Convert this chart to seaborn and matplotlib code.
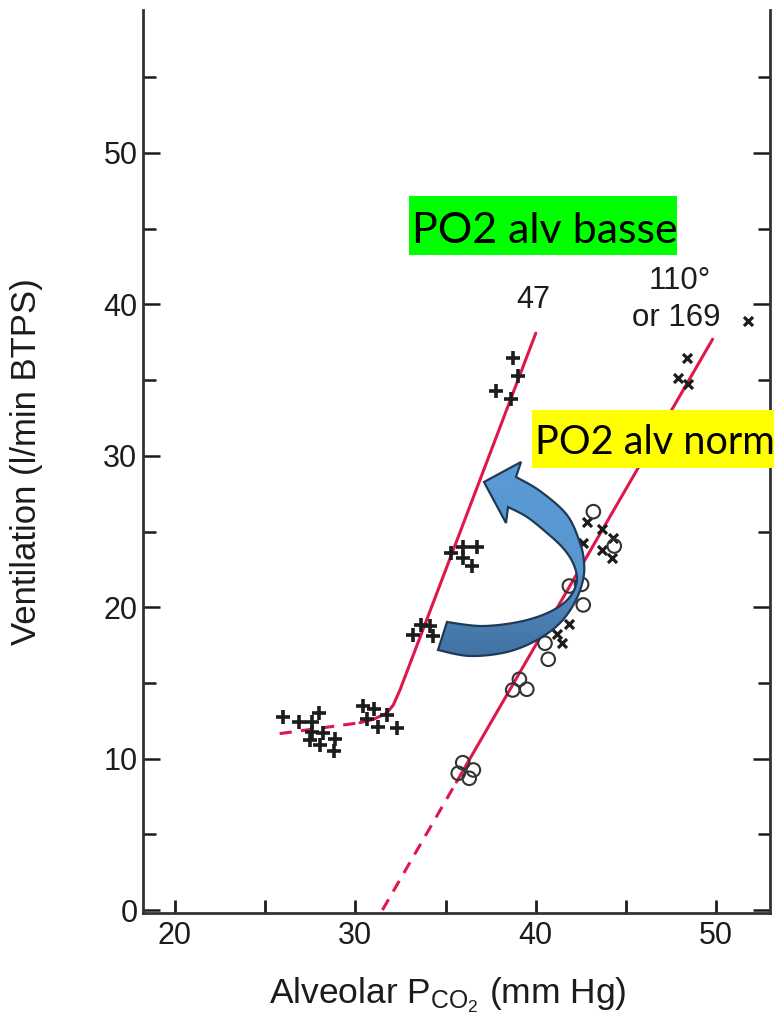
import numpy as np
import pandas as pd
import matplotlib
matplotlib.use("Agg")
import matplotlib.pyplot as plt
import seaborn as sns
from matplotlib.patches import Polygon, Rectangle
from matplotlib.colors import LinearSegmentedColormap
from matplotlib.transforms import IdentityTransform

# ---------------- data ----------------
plus_x = [25.97, 26.89, 27.58, 28.00, 27.58, 28.22, 27.48, 28.04, 28.87, 28.81,
          30.40, 31.03, 30.66, 31.77, 31.27, 32.32,
          33.21, 33.64, 34.13, 34.30,
          35.28, 35.95, 36.72, 35.95, 36.48,
          38.75, 39.03, 37.79, 38.61]
plus_y = [12.73, 12.44, 12.44, 12.99, 11.78, 11.67, 11.23, 10.90, 11.27, 10.50,
          13.47, 13.26, 12.60, 12.88, 12.11, 12.04,
          18.16, 18.82, 18.76, 18.10,
          23.60, 24.00, 24.00, 23.23, 22.72,
          36.44, 35.29, 34.28, 33.75]

cross_x = [51.76, 48.40, 47.90, 48.45, 42.86, 43.69, 44.30, 43.65, 44.21, 42.63,
           41.86, 41.16, 41.47]
cross_y = [38.90, 36.48, 35.16, 34.72, 25.61, 25.17, 24.55, 23.78, 23.27, 24.26,
           18.87, 18.23, 17.61]

circle_x = [43.19, 44.35, 41.86, 42.54, 42.63, 40.51, 40.69, 39.09, 38.72, 39.50,
            35.95, 35.70, 36.54, 36.31]
circle_y = [26.31, 24.04, 21.40, 21.51, 20.15, 17.62, 16.56, 15.24, 14.53, 14.58,
            9.73, 9.03, 9.25, 8.70]

low_dash_x = [25.8, 30.25]
low_dash_y = [11.65, 12.37]
low_solid_x = [30.25, 31.0, 31.73, 32.1, 32.47, 40.0]
low_solid_y = [12.37, 12.6, 12.99, 13.54, 14.53, 38.1]

norm_dash_x = [31.5, 35.6]
norm_dash_y = [0.0, 8.45]
norm_solid_x = [35.6, 49.8]
norm_solid_y = [8.45, 37.7]

x_major = [20, 30, 40, 50]
x_minor = [25, 35, 45]
y_major = [0, 10, 20, 30, 40, 50]
y_minor = [5, 15, 25, 35, 45, 55]

label_47 = "47"
label_110 = "110°"
label_169 = "or 169"
box_low = "PO2 alv basse"
box_norm = "PO2 alv norm"

# ---------------- style ----------------
sns.set_theme(style="ticks")
FONT = ['Liberation Sans', 'DejaVu Sans']
plt.rcParams['font.family'] = FONT
plt.rcParams['mathtext.fontset'] = 'custom'
plt.rcParams['mathtext.rm'] = 'Liberation Sans'
plt.rcParams['mathtext.it'] = 'Liberation Sans:italic'
plt.rcParams['mathtext.bf'] = 'Liberation Sans:bold'

W, H = 774, 1013
fig = plt.figure(figsize=(W / 100, H / 100), dpi=100)
fig.patch.set_facecolor('white')
ax = fig.add_axes([143 / W, 1 - 913 / H, (770 - 143) / W, (913 - 10) / H])
ax.set_facecolor('white')

RED = '#E0174A'
INK = '#1c1c1c'

# lines
sns.lineplot(x=low_dash_x, y=low_dash_y, sort=False, estimator=None, color=RED,
             lw=2.2, linestyle=(0, (4, 3)), ax=ax)
sns.lineplot(x=low_solid_x, y=low_solid_y, sort=False, estimator=None, color=RED,
             lw=2.2, ax=ax)
sns.lineplot(x=norm_dash_x, y=norm_dash_y, sort=False, estimator=None, color=RED,
             lw=2.2, linestyle=(0, (4, 3)), ax=ax)
sns.lineplot(x=norm_solid_x, y=norm_solid_y, sort=False, estimator=None, color=RED,
             lw=2.2, ax=ax)

# points
sns.scatterplot(x=plus_x, y=plus_y, marker='+', s=95, color=INK, linewidth=2.6,
                ax=ax, zorder=4)
sns.scatterplot(x=cross_x, y=cross_y, marker='x', s=42, color=INK, linewidth=2.3,
                ax=ax, zorder=4)
sns.scatterplot(x=circle_x, y=circle_y, marker='o', s=95, facecolor='none',
                edgecolor='#333333', linewidth=1.5, ax=ax, zorder=4)

XLIM = (20 - 32 / 18.04, 20 + 595 / 18.04)
YLIM = (-3 / 15.14, 900 / 15.14)
ax.set_xlim(*XLIM)
ax.set_ylim(*YLIM)

# axes styling
ax.spines['top'].set_visible(False)
for s in ['left', 'right', 'bottom']:
    ax.spines[s].set_color('#333333')
    ax.spines[s].set_linewidth(2.0)

ax.set_xticks(x_major)
ax.set_xticks(x_minor, minor=True)
ax.set_yticks(y_major)
ax.set_yticks(y_minor, minor=True)
ax.tick_params(axis='x', which='both', direction='in', length=9.5, width=2.0,
               colors=INK, top=False)
ax.tick_params(axis='x', which='major', labelsize=22, pad=6)
ax.tick_params(axis='y', which='major', direction='in', length=12, width=1.8,
               left=True, right=True, colors=INK, labelsize=22, pad=4)
ax.tick_params(axis='y', which='minor', direction='in', length=9, width=1.8,
               left=True, right=True, colors=INK)
for lab in ax.get_xticklabels() + ax.get_yticklabels():
    lab.set_family(FONT)

ax.set_ylabel('Ventilation (l/min BTPS)', fontsize=25, color=INK, family=FONT)
ax.yaxis.set_label_coords(-0.159, 0.5)
ax.set_xlabel(r'Alveolar P$_{\rm CO_2}$ (mm Hg)', fontsize=25.5, color=INK, family=FONT)
ax.xaxis.set_label_coords(0.486, -0.069)

# curve labels
ax.text(39.85, 40.29, label_47, fontsize=22, color=INK, ha='center', va='center',
        family=FONT)
ax.text(47.99, 41.55, label_110, fontsize=22.5, color=INK, ha='center', va='center',
        family=FONT)
ax.text(47.77, 39.10, label_169, fontsize=22.5, color=INK, ha='center', va='center',
        family=FONT)


# ---------------- curved blue arrow (decoration) ----------------
def px2data(pts):
    return [(20 + (px - 175) / 18.04, (910 - py) / 15.14) for px, py in pts]


def catmull(pts, n=8):
    pts = np.asarray(pts, float)
    P = np.vstack([pts[0], pts, pts[-1]])
    out = []
    for i in range(1, len(P) - 2):
        p0, p1, p2, p3 = P[i - 1], P[i], P[i + 1], P[i + 2]
        for t in np.linspace(0, 1, n, endpoint=False):
            t2, t3 = t * t, t * t * t
            out.append(0.5 * ((2 * p1) + (-p0 + p2) * t +
                              (2 * p0 - 5 * p1 + 4 * p2 - p3) * t2 +
                              (-p0 + 3 * p1 - 3 * p2 + p3) * t3))
    out.append(pts[-1])
    return [tuple(p) for p in out]


outer = [(438, 650), (470, 656), (507, 652), (537, 640), (560, 623), (575, 602),
         (583, 580), (584, 562), (580, 543), (567, 515), (540, 491), (516, 477)]
head = [(521, 462), (484, 482), (506, 523), (508, 507)]
inner = [(508, 507), (527, 517), (547, 533), (563, 548), (573, 563), (577, 579),
         (572, 594), (560, 606), (540, 616), (513, 623), (480, 626), (447, 622)]
arrow_px = catmull(outer) + head[:-1] + catmull(inner)
arrow_pts = px2data(arrow_px)

poly = Polygon(arrow_pts, closed=True, facecolor='none', edgecolor='#1F3A56',
               linewidth=1.6, zorder=7, transform=ax.transData)
ax.add_patch(poly)
cmap = LinearSegmentedColormap.from_list(
    'arr', [(0, '#5B9BD5'), (0.55, '#5897D0'), (0.78, '#4A7EB2'), (1, '#41709F')])
grad = np.linspace(0, 1, 200).reshape(-1, 1)
(x0, y1), (x1, y0) = px2data([(430, 455), (592, 665)])
im = ax.imshow(grad, extent=(x0, x1, y0, y1), origin='upper', cmap=cmap,
               aspect='auto', zorder=6, interpolation='bilinear')
im.set_clip_path(poly)
ax.set_xlim(*XLIM)
ax.set_ylim(*YLIM)

# ---------------- highlighted text boxes ----------------
fig.add_artist(Rectangle((409, H - 255), 268, 59, transform=IdentityTransform(),
                         facecolor='#00FF00', edgecolor='none', zorder=8))
fig.text(412, H - 243, box_low, transform=IdentityTransform(), fontsize=31,
         family=['Lato', 'DejaVu Sans'], color='black', ha='left', va='baseline',
         zorder=9)
fig.add_artist(Rectangle((532, H - 468), W - 532 + 2, 58, transform=IdentityTransform(),
                         facecolor='#FFFF00', edgecolor='none', zorder=8))
fig.text(535, H - 454, box_norm, transform=IdentityTransform(), fontsize=28.5,
         family=['Lato', 'DejaVu Sans'], color='black', ha='left', va='baseline',
         zorder=9)

fig.savefig('out.png', dpi=100)
